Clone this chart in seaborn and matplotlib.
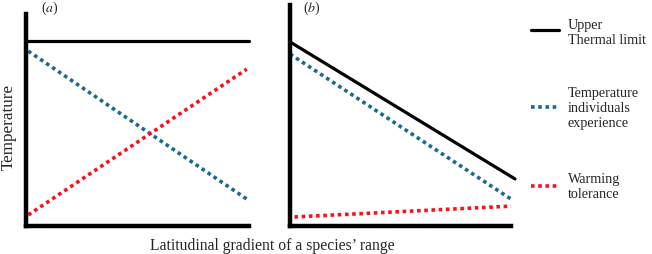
import matplotlib
matplotlib.use("Agg")
import matplotlib.pyplot as plt
import seaborn as sns
from matplotlib.lines import Line2D

sns.set_style("white")
plt.rcParams['font.family'] = ['Liberation Serif', 'DejaVu Serif']
plt.rcParams['mathtext.fontset'] = 'stix'

# Panel (a) data
a_x = [0.0, 1.0]
a_upper = [0.873, 0.873]
a_exp_x = [0.01, 0.99]
a_exp = [0.825, 0.127]
a_tol_x = [0.01, 0.99]
a_tol = [0.052, 0.74]

# Panel (b) data
b_x = [0.0, 1.018]
b_upper = [0.833, 0.213]
b_exp_x = [0.0, 1.0]
b_exp = [0.778, 0.122]
b_tol_x = [0.02, 1.0]
b_tol = [0.041, 0.090]

labels = ["Upper\nThermal limit", "Temperature\nindividuals\nexperience", "Warming\ntolerance"]
c_black = "#000000"
c_blue = "#1b6a8e"
c_red = "#f5141e"

W, H = 652, 255
fig = plt.figure(figsize=(6.52, 2.55), dpi=100)
ax_a = fig.add_axes([26/W, 28/H, 223/W, 212/H])
ax_b = fig.add_axes([290/W, 28/H, 221/W, 221/H])

dot = (0, (1, 1))
styles = [dict(color=c_black, lw=2.3),
          dict(color=c_blue, lw=2.6, linestyle=dot),
          dict(color=c_red, lw=2.6, linestyle=dot)]

def draw(ax, x1, y1, x2, y2, x3, y3):
    sns.lineplot(x=x1, y=y1, ax=ax, clip_on=False, **styles[0])
    sns.lineplot(x=x2, y=y2, ax=ax, clip_on=False, **styles[1])
    sns.lineplot(x=x3, y=y3, ax=ax, clip_on=False, **styles[2])
    ax.set_xlim(0, 1)
    ax.set_ylim(0, 1)
    ax.set_xticks([]); ax.set_yticks([])
    for s in ["top", "right"]:
        ax.spines[s].set_visible(False)
    for s in ["left", "bottom"]:
        ax.spines[s].set_linewidth(3.2)
        ax.spines[s].set_color("black")
    ax.set_xlabel(""); ax.set_ylabel("")

draw(ax_a, a_x, a_upper, a_exp_x, a_exp, a_tol_x, a_tol)
draw(ax_b, b_x, b_upper, b_exp_x, b_exp, b_tol_x, b_tol)

fig.text(50/W, 1 - 8.5/H, r"($\mathit{a}$)", fontsize=10, ha="center", va="center")
fig.text(312/W, 1 - 8.5/H, r"($\mathit{b}$)", fontsize=10, ha="center", va="center")

fig.text(272/W, 1 - 246/H, "Latitudinal gradient of a species\u2019 range", fontsize=11.3,
         ha="center", va="center")
fig.text(9/W, 1 - 127/H, "Temperature", fontsize=12.3, rotation=90, ha="center", va="center")

# legend drawn as figure artists
leg_y = [31, 108, 187]
txt_y = [33.5, 108.5, 187.5]
for st, lab, ly, ty in zip(styles, labels, leg_y, txt_y):
    fig.add_artist(Line2D([531/W, 559/W], [1 - ly/H, 1 - ly/H], transform=fig.transFigure, **st))
    fig.text(568/W, 1 - ty/H, lab, fontsize=10.2, ha="left", va="center", linespacing=1.2)

fig.savefig("out.png", dpi=100)
